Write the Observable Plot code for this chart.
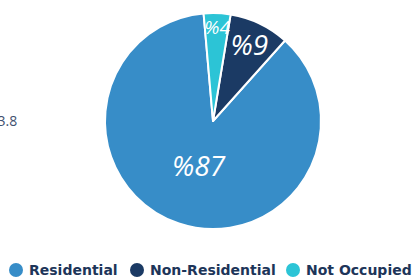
<!DOCTYPE html>
<html><head><meta charset="utf-8">
<script src="https://cdn.jsdelivr.net/npm/d3@7"></script>
<script src="https://cdn.jsdelivr.net/npm/@observablehq/plot@0.6"></script>
<style>
html,body{margin:0;padding:0;background:#fff;}
#chart{position:relative;width:415px;height:280px;overflow:hidden;}
#chart svg{display:block;}
.legend{position:relative;height:30px;font-family:"DejaVu Sans",sans-serif;font-weight:bold;font-size:14px;color:#1d3559;white-space:nowrap;}
.item{position:absolute;top:0;height:30px;display:flex;align-items:center;}
.sw{width:14px;height:14px;border-radius:50%;margin-right:6px;flex:none;}
</style></head><body><div id="chart"></div>
<script>
const categories = ["Residential", "Non-Residential", "Not Occupied"];
const shares = [87, 9, 4];
const labels = ["%87", "%9", "%4"];
const colors = ["#378dc8", "#1b3a64", "#2cc4d6"];
const sideLabel = ["3.8"];

const data = categories.map((name, i) => ({name, value: shares[i], label: labels[i]}));
const color = Plot.scale({color: {type: "ordinal", domain: categories, range: colors}});
const deg = Math.PI / 180;
const start = -5 * deg;
const pie = d3.pie().value(d => d.value).sort(null).startAngle(start).endAngle(start - 2 * Math.PI);
const arcs = pie(data);
const labelRadius = [0.44, 0.77, 0.87];
const labelSize = [28, 28, 19];
const pts = arcs.map((a, i) => {
  const m = (a.startAngle + a.endAngle) / 2;
  return {...a.data, x: Math.sin(m) * labelRadius[i], y: Math.cos(m) * labelRadius[i], size: labelSize[i]};
});

const cx = 213, cy = 121, R = 108;
const plot = Plot.plot({
  width: 415, height: 255, margin: 0,
  x: {domain: [-1, 1], range: [cx - R, cx + R], axis: null},
  y: {domain: [-1, 1], range: [cy + R, cy - R], axis: null},
  marks: [
    (index, scales) => {
      const x0 = scales.x(0), y0 = scales.y(0), r = scales.x(1) - scales.x(0);
      const arc = d3.arc().innerRadius(0).outerRadius(r);
      const g = d3.create("svg:g").attr("transform", `translate(${x0},${y0})`);
      g.selectAll("path").data(arcs).join("path")
        .attr("d", arc)
        .attr("fill", d => color.apply(d.data.name))
        .attr("stroke", "#fff").attr("stroke-width", 2).attr("stroke-linejoin", "round");
      return g.node();
    },
    Plot.text(pts, {x: "x", y: "y", text: "label", fill: "white", fontSize: d => d.size, fontStyle: "italic", fontFamily: "Open Sans"}),
    Plot.text(sideLabel, {frameAnchor: "left", dx: -3, dy: -6, text: d => d, textAnchor: "start", fill: "#3f5170", fontSize: 14, fontFamily: "Open Sans"})
  ]
});
const chart = document.getElementById("chart");
chart.appendChild(plot);

const legend = document.createElement("div");
legend.className = "legend";
const lefts = [9, 130, 286];
categories.forEach((c, i) => {
  const it = document.createElement("div");
  it.className = "item";
  it.style.left = lefts[i] + "px";
  const sw = document.createElement("span");
  sw.className = "sw";
  sw.style.background = color.apply(c);
  const t = document.createElement("span");
  t.textContent = c;
  it.appendChild(sw); it.appendChild(t);
  legend.appendChild(it);
});
chart.appendChild(legend);
</script>
</body></html>
